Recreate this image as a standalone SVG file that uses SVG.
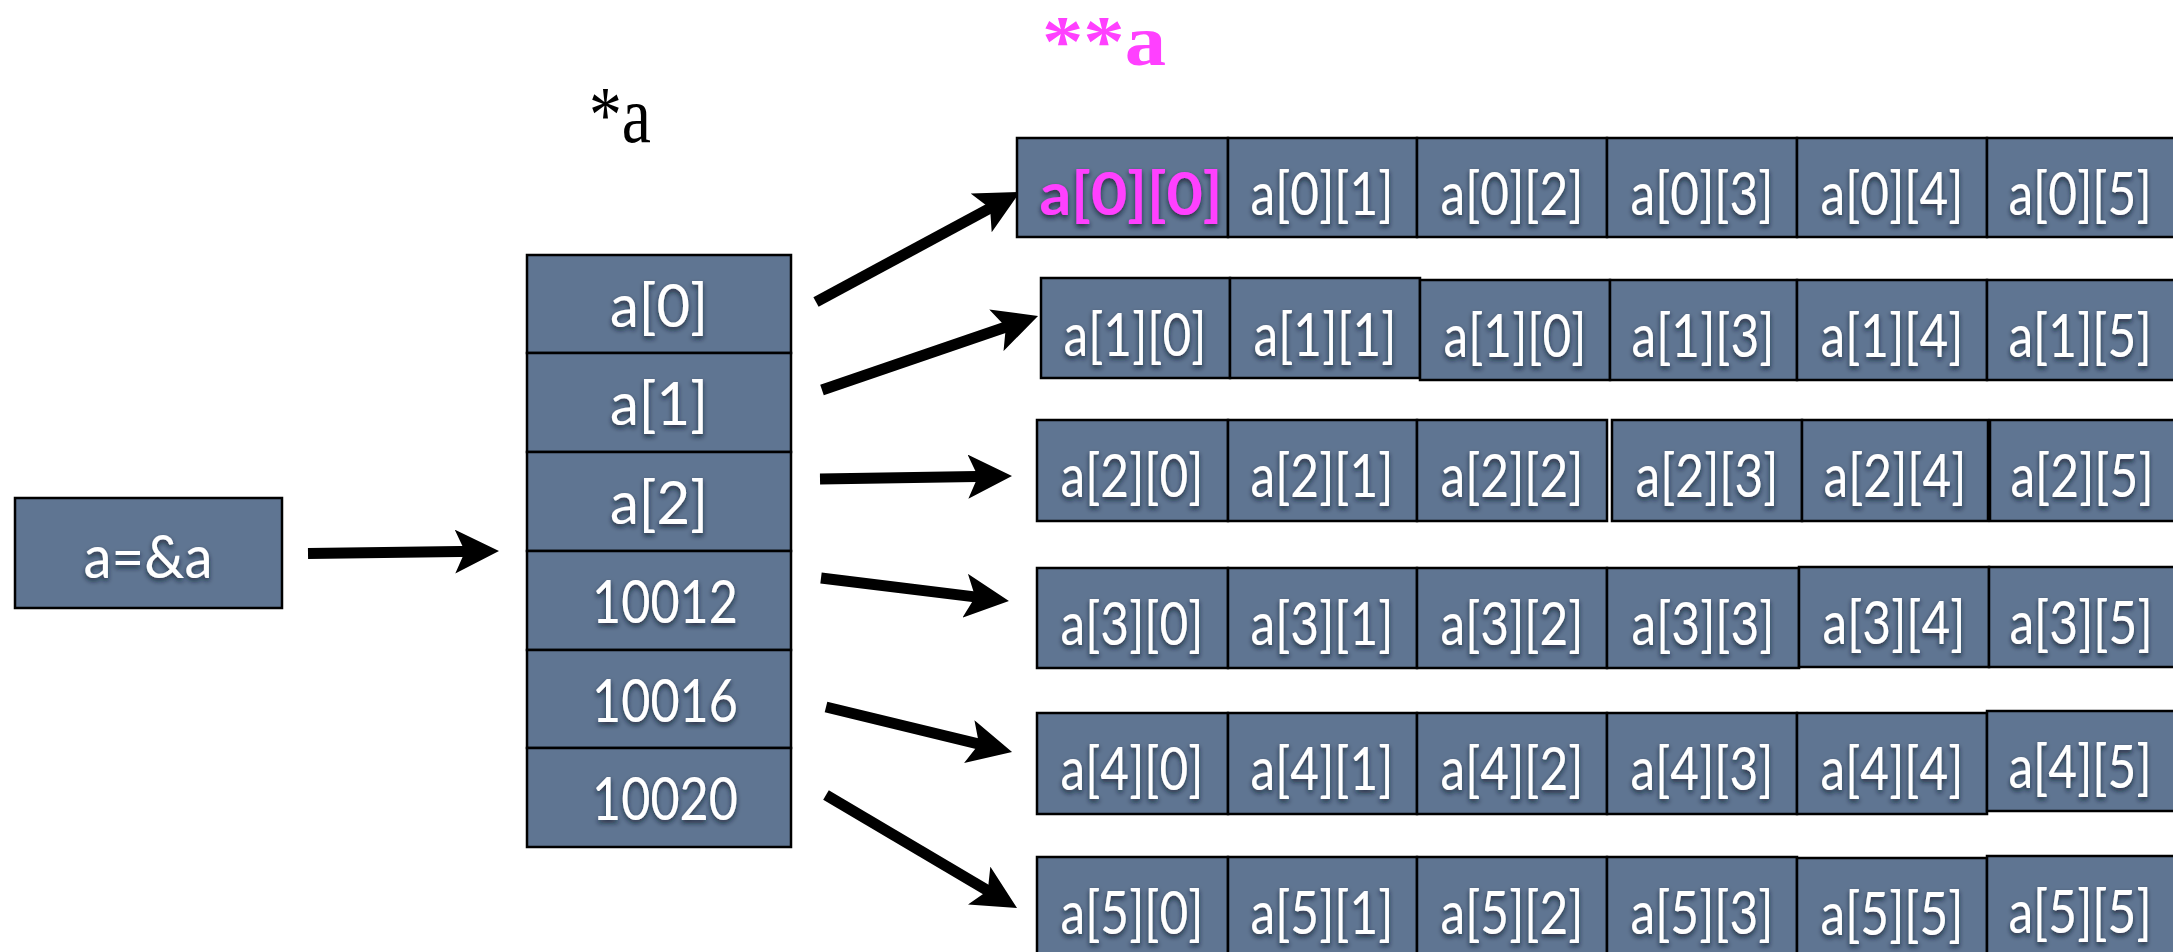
<svg xmlns="http://www.w3.org/2000/svg" width="2173" height="952" viewBox="0 0 2173 952">
<defs>
<style>
.box{fill:#5f7592;stroke:#000;stroke-width:2.5}
.t{font-family:Lato,"Open Sans","Liberation Sans",sans-serif;font-size:60px;fill:#fff;text-anchor:middle;filter:url(#sh)}
.hl{font-family:Lato,"Open Sans","Liberation Sans",sans-serif;font-size:60px;font-weight:bold;fill:#ff40ff;text-anchor:middle;filter:url(#sh)}
.conn{stroke:#000;stroke-width:11;fill:none;marker-end:url(#ah)}
.lbl{font-family:"Liberation Serif","Times New Roman",serif}
</style>
<filter id="sh" x="-10%" y="-20%" width="120%" height="150%">
<feDropShadow dx="0" dy="3" stdDeviation="2.5" flood-color="#141c28" flood-opacity="0.75"/>
</filter>
<marker id="ah" viewBox="0 -22 44 44" refX="24" refY="0" markerWidth="44" markerHeight="44" markerUnits="userSpaceOnUse" orient="auto">
<path d="M0,-22 L44,0 L0,22 L10,0 Z" fill="#000"/>
</marker>
</defs>
<rect width="2173" height="952" fill="#fff"/>

<text class="lbl" x="589" y="142" font-size="80" fill="#000" textLength="62" lengthAdjust="spacingAndGlyphs">*a</text>
<text class="lbl" x="1042" y="65" font-size="72" font-weight="bold" fill="#ff40ff" textLength="124" lengthAdjust="spacingAndGlyphs">**a</text>

<g id="connectors">
<path class="conn" d="M308,553.5 L479,551.3"/>
<path class="conn" d="M816,302 L1002.4,201.5"/>
<path class="conn" d="M822,390 L1019.1,322.5"/>
<path class="conn" d="M820,479 L992,476.3"/>
<path class="conn" d="M821,578 L989.1,598.6"/>
<path class="conn" d="M826,707 L992.6,747.3"/>
<path class="conn" d="M826,795 L999.8,897.8"/>
</g>

<g id="ptr">
<rect class="box" x="15" y="498" width="267" height="110"/>
<text class="t" x="148" y="578" textLength="129" lengthAdjust="spacingAndGlyphs">a=&amp;a</text>
</g>

<g id="col">
<g id="col0"><rect class="box" x="527" y="255" width="264" height="98"/><text class="t" x="659" y="327" textLength="98" lengthAdjust="spacingAndGlyphs">a[0]</text></g>
<g id="col1"><rect class="box" x="527" y="353" width="264" height="99"/><text class="t" x="659" y="425" textLength="98" lengthAdjust="spacingAndGlyphs">a[1]</text></g>
<g id="col2"><rect class="box" x="527" y="452" width="264" height="99"/><text class="t" x="659" y="524" textLength="98" lengthAdjust="spacingAndGlyphs">a[2]</text></g>
<g id="col3"><rect class="box" x="527" y="551" width="264" height="99"/><text class="t" x="665" y="623" textLength="146" lengthAdjust="spacingAndGlyphs">10012</text></g>
<g id="col4"><rect class="box" x="527" y="650" width="264" height="98"/><text class="t" x="665" y="722" textLength="146" lengthAdjust="spacingAndGlyphs">10016</text></g>
<g id="col5"><rect class="box" x="527" y="748" width="264" height="99"/><text class="t" x="665" y="820" textLength="146" lengthAdjust="spacingAndGlyphs">10020</text></g>
</g>

<g id="row0">
<g id="r0c0"><rect class="box" x="1017" y="138" width="211" height="99"/><text class="hl" x="1131" y="215" textLength="183" lengthAdjust="spacingAndGlyphs">a[0][0]</text></g>
<g id="r0c1"><rect class="box" x="1228" y="138" width="189" height="99"/><text class="t" x="1322" y="215" textLength="143" lengthAdjust="spacingAndGlyphs">a[0][1]</text></g>
<g id="r0c2"><rect class="box" x="1417" y="138" width="190" height="99"/><text class="t" x="1512" y="215" textLength="143" lengthAdjust="spacingAndGlyphs">a[0][2]</text></g>
<g id="r0c3"><rect class="box" x="1607" y="138" width="190" height="99"/><text class="t" x="1702" y="215" textLength="143" lengthAdjust="spacingAndGlyphs">a[0][3]</text></g>
<g id="r0c4"><rect class="box" x="1797" y="138" width="190" height="99"/><text class="t" x="1892" y="215" textLength="143" lengthAdjust="spacingAndGlyphs">a[0][4]</text></g>
<g id="r0c5"><rect class="box" x="1987" y="138" width="190" height="99"/><text class="t" transform="translate(2080 215) scale(0.8 1)" textLength="179" lengthAdjust="spacingAndGlyphs">a[0][5]</text></g>
</g>

<g id="row1">
<g id="r1c0"><rect class="box" x="1041" y="278" width="189" height="100"/><text class="t" x="1135" y="356" textLength="143" lengthAdjust="spacingAndGlyphs">a[1][0]</text></g>
<g id="r1c1"><rect class="box" x="1230" y="278" width="190" height="100"/><text class="t" x="1325" y="356" textLength="143" lengthAdjust="spacingAndGlyphs">a[1][1]</text></g>
<g id="r1c2"><rect class="box" x="1420" y="280" width="190" height="100"/><text class="t" x="1515" y="357" textLength="143" lengthAdjust="spacingAndGlyphs">a[1][0]</text></g>
<g id="r1c3"><rect class="box" x="1610" y="280" width="187" height="100"/><text class="t" x="1703" y="357" textLength="143" lengthAdjust="spacingAndGlyphs">a[1][3]</text></g>
<g id="r1c4"><rect class="box" x="1797" y="280" width="190" height="100"/><text class="t" x="1892" y="357" textLength="143" lengthAdjust="spacingAndGlyphs">a[1][4]</text></g>
<g id="r1c5"><rect class="box" x="1987" y="280" width="190" height="100"/><text class="t" transform="translate(2080 357) scale(0.8 1)" textLength="179" lengthAdjust="spacingAndGlyphs">a[1][5]</text></g>
</g>

<g id="row2">
<g id="r2c0"><rect class="box" x="1037" y="420" width="191" height="101"/><text class="t" x="1132" y="497" textLength="143" lengthAdjust="spacingAndGlyphs">a[2][0]</text></g>
<g id="r2c1"><rect class="box" x="1228" y="420" width="189" height="101"/><text class="t" x="1322" y="497" textLength="143" lengthAdjust="spacingAndGlyphs">a[2][1]</text></g>
<g id="r2c2"><rect class="box" x="1417" y="420" width="190" height="101"/><text class="t" x="1512" y="497" textLength="143" lengthAdjust="spacingAndGlyphs">a[2][2]</text></g>
<g id="r2c3"><rect class="box" x="1612" y="420" width="190" height="101"/><text class="t" x="1707" y="497" textLength="143" lengthAdjust="spacingAndGlyphs">a[2][3]</text></g>
<g id="r2c4"><rect class="box" x="1802" y="420" width="186" height="101"/><text class="t" x="1895" y="497" textLength="143" lengthAdjust="spacingAndGlyphs">a[2][4]</text></g>
<g id="r2c5"><rect class="box" x="1990" y="420" width="190" height="101"/><text class="t" transform="translate(2082 497) scale(0.8 1)" textLength="179" lengthAdjust="spacingAndGlyphs">a[2][5]</text></g>
</g>

<g id="row3">
<g id="r3c0"><rect class="box" x="1037" y="568" width="191" height="100"/><text class="t" x="1132" y="645" textLength="143" lengthAdjust="spacingAndGlyphs">a[3][0]</text></g>
<g id="r3c1"><rect class="box" x="1228" y="568" width="189" height="100"/><text class="t" x="1322" y="645" textLength="143" lengthAdjust="spacingAndGlyphs">a[3][1]</text></g>
<g id="r3c2"><rect class="box" x="1417" y="568" width="190" height="100"/><text class="t" x="1512" y="645" textLength="143" lengthAdjust="spacingAndGlyphs">a[3][2]</text></g>
<g id="r3c3"><rect class="box" x="1607" y="568" width="192" height="100"/><text class="t" x="1703" y="645" textLength="143" lengthAdjust="spacingAndGlyphs">a[3][3]</text></g>
<g id="r3c4"><rect class="box" x="1799" y="567" width="190" height="100"/><text class="t" x="1894" y="644" textLength="143" lengthAdjust="spacingAndGlyphs">a[3][4]</text></g>
<g id="r3c5"><rect class="box" x="1989" y="567" width="190" height="100"/><text class="t" transform="translate(2081 644) scale(0.8 1)" textLength="179" lengthAdjust="spacingAndGlyphs">a[3][5]</text></g>
</g>

<g id="row4">
<g id="r4c0"><rect class="box" x="1037" y="713" width="191" height="101"/><text class="t" x="1132" y="790" textLength="143" lengthAdjust="spacingAndGlyphs">a[4][0]</text></g>
<g id="r4c1"><rect class="box" x="1228" y="713" width="189" height="101"/><text class="t" x="1322" y="790" textLength="143" lengthAdjust="spacingAndGlyphs">a[4][1]</text></g>
<g id="r4c2"><rect class="box" x="1417" y="713" width="190" height="101"/><text class="t" x="1512" y="790" textLength="143" lengthAdjust="spacingAndGlyphs">a[4][2]</text></g>
<g id="r4c3"><rect class="box" x="1607" y="713" width="190" height="101"/><text class="t" x="1702" y="790" textLength="143" lengthAdjust="spacingAndGlyphs">a[4][3]</text></g>
<g id="r4c4"><rect class="box" x="1797" y="713" width="190" height="101"/><text class="t" x="1892" y="790" textLength="143" lengthAdjust="spacingAndGlyphs">a[4][4]</text></g>
<g id="r4c5"><rect class="box" x="1987" y="711" width="190" height="100"/><text class="t" transform="translate(2080 788) scale(0.8 1)" textLength="179" lengthAdjust="spacingAndGlyphs">a[4][5]</text></g>
</g>

<g id="row5">
<g id="r5c0"><rect class="box" x="1037" y="857" width="191" height="100"/><text class="t" x="1132" y="934" textLength="143" lengthAdjust="spacingAndGlyphs">a[5][0]</text></g>
<g id="r5c1"><rect class="box" x="1228" y="857" width="189" height="100"/><text class="t" x="1322" y="934" textLength="143" lengthAdjust="spacingAndGlyphs">a[5][1]</text></g>
<g id="r5c2"><rect class="box" x="1417" y="857" width="190" height="100"/><text class="t" x="1512" y="934" textLength="143" lengthAdjust="spacingAndGlyphs">a[5][2]</text></g>
<g id="r5c3"><rect class="box" x="1607" y="857" width="190" height="100"/><text class="t" x="1702" y="934" textLength="143" lengthAdjust="spacingAndGlyphs">a[5][3]</text></g>
<g id="r5c4"><rect class="box" x="1797" y="858" width="190" height="100"/><text class="t" x="1892" y="935" textLength="143" lengthAdjust="spacingAndGlyphs">a[5][5]</text></g>
<g id="r5c5"><rect class="box" x="1987" y="856" width="190" height="100"/><text class="t" transform="translate(2080 933) scale(0.8 1)" textLength="179" lengthAdjust="spacingAndGlyphs">a[5][5]</text></g>
</g>
</svg>
